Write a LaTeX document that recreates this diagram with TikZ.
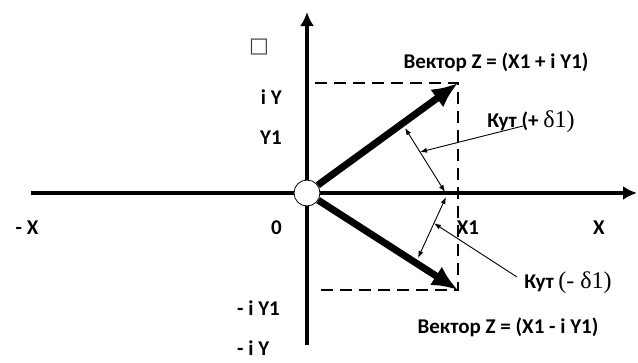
\documentclass[tikz,border=0pt]{standalone}
\usepackage{fontspec}
\setmainfont{Carlito}
\newfontfamily\symfont{DejaVu Sans}
\newfontfamily\grkfont{Liberation Serif}
\usetikzlibrary{arrows.meta,calc}

\begin{document}
\begin{tikzpicture}[x=1pt, y=-1pt, every node/.style={font=\fontsize{21}{24}\selectfont\bfseries, inner sep=0pt}, axis/.style={line width=3.8pt,-{Latex[length=14pt,width=14pt]}}, vec/.style={line width=7pt,-{Latex[length=26pt,width=22pt]}}, proj/.style={line width=1.8pt,dash pattern=on 12pt off 7pt}, ptr/.style={line width=0.9pt,-{Latex[length=7pt,width=5pt]}}, dbl/.style={line width=0.9pt,{Latex[length=7pt,width=5pt]}-{Latex[length=7pt,width=5pt]}}]
\useasboundingbox (0,0) rectangle (638,362);
% axes
\coordinate (xl) at (31,193); \coordinate (xr) at (637,193);
\coordinate (yb) at (307,345); \coordinate (yt) at (307,12);
\draw[axis] (xl) -- (xr);
\draw[axis] (yb) -- (yt);
% projections
\coordinate (zp) at (458,83); \coordinate (zm) at (458,290);
\coordinate (dp) at (315,83); \coordinate (dm) at (315,290);
\draw[proj] (dp) -- (zp) -- (zm) -- (dm);
\node[circle,draw,fill=white,line width=0.8pt,minimum size=26pt] (o) at (307,193) {};
\draw[vec] (o) -- (zp);
\draw[vec] (o) -- (zm);
% labels
\node[font=\symfont\fontsize{21}{24}\selectfont,text=black!75] (sq) at (259,47) {□};
\node[anchor=east] (iy) at (282,97) {i Y};
\node[anchor=east] (y1) at (282,138) {Y1};
\node (mx) at (27,228) {- X};
\node[anchor=east] (zero) at (282,228) {0};
\node (x1) at (468,228) {X1};
\node (xx) at (599,228) {X};
\node[anchor=west] (miy1) at (237,308) {- i Y1};
\node[anchor=west] (miy) at (237,348) {- i Y};
\node (vp) at (496,62) {Вектор Z = (X1 + i Y1)};
\node (vm) at (508,327) {Вектор Z = (X1 - i Y1)};
\node (kp) at (531,122) {Кут (+ {\grkfont\mdseries\fontsize{24}{26}\selectfont δ1)}};
\node (km) at (568,283) {Кут {\grkfont\mdseries\fontsize{24}{26}\selectfont (- δ1)}};
% angles
\coordinate (a1) at (405,128); \coordinate (b1) at (445,192);
\coordinate (a2) at (446,197); \coordinate (b2) at (418,258);
\draw[dbl] (a1) -- (b1);
\draw[dbl] (a2) -- (b2);
\coordinate (kpe) at (523,126); \coordinate (kme) at (517,277);
\draw[ptr] (kpe) -- ($(a1)!0.375!(b1)$);
\draw[ptr] (kme) -- ($(a2)!0.43!(b2)$);
\end{tikzpicture}
\end{document}
